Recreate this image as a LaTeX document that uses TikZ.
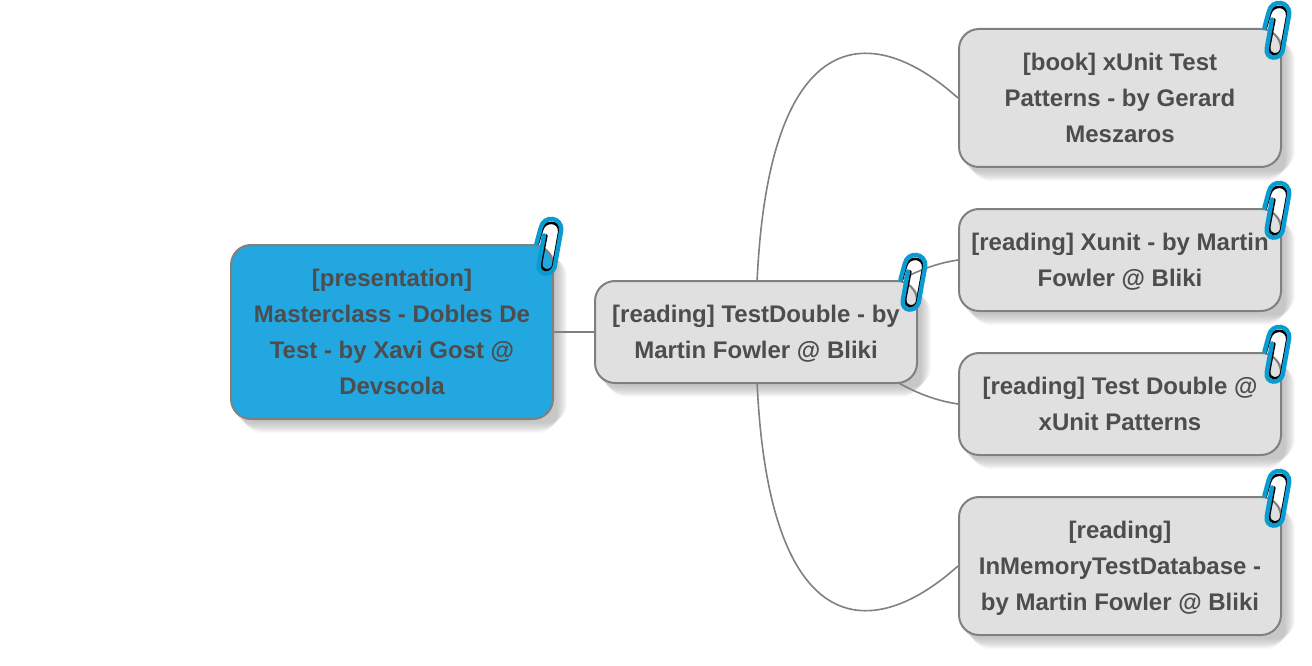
\documentclass[tikz,border=0pt]{standalone}
\usepackage{fontspec}
\setmainfont{Liberation Sans}
\pgfdeclarelayer{edgelayer}
\pgfdeclarelayer{nodelayer}
\pgfsetlayers{edgelayer,nodelayer,main}
\definecolor{topicgray}{HTML}{E0E0E0}
\definecolor{topicblue}{HTML}{22A7E0}
\definecolor{edgegray}{HTML}{808080}
\definecolor{textgray}{HTML}{4D4D4D}
\definecolor{clipblue}{HTML}{0A9BD0}
\tikzstyle{topic}=[rectangle,rounded corners=20pt,draw=edgegray,line width=2pt,fill=topicgray,text=textgray,
  minimum width=322pt,align=center,font=\fontsize{24}{36}\selectfont\bfseries,text depth=0pt]
\tikzstyle{link}=[edgegray,line width=1.6pt]
\tikzset{paperclip/.pic={
\draw[black,line width=2.6pt,line cap=round,scale=0.95]
(-17,0) -- (-12.5,15) .. controls (-10,25) and (6,25) .. (5.5,13) -- (-1,-23) .. controls (-3,-30) and (-14,-30) .. (-13.5,-20) -- (-8,9);
\draw[clipblue,line width=4.4pt,line cap=round,scale=0.95]
(-18.5,0.5) -- (-14,17) .. controls (-11,31) and (9,29) .. (7.5,14) -- (0.7,-24) .. controls (-2,-34) and (-18,-34) .. (-16,-21) -- (-10.5,9);
}}
\newcommand{\topicshadow}[1]{
\foreach \e in {-5,...,5}
\fill[black!50,opacity=0.05,rounded corners=20pt] ([shift={(8-\e,-8+\e)}]#1.south west) rectangle ([shift={(8+\e,-8-\e)}]#1.north east);
}
\begin{document}
\begin{tikzpicture}[x=1pt,y=1pt]
\useasboundingbox (0,0) rectangle (1312,-666);
\node[topic,fill=topicblue,minimum height=174pt] (master) at (392,-332) {[presentation]\\Masterclass - Dobles De\\Test - by Xavi Gost @\\Devscola};
\node[topic,minimum height=102pt] (testdouble) at (756,-332) {[reading] TestDouble - by\\Martin Fowler @ Bliki};
\node[topic,minimum height=138pt] (book) at (1120,-98) {[book] xUnit Test\\Patterns - by Gerard\\Meszaros};
\node[topic,minimum height=102pt] (xunit) at (1120,-260) {[reading] Xunit - by Martin\\Fowler @ Bliki};
\node[topic,minimum height=102pt] (patterns) at (1120,-404) {[reading] Test Double @\\xUnit Patterns};
\node[topic,minimum height=138pt] (memory) at (1120,-566) {[reading]\\InMemoryTestDatabase -\\by Martin Fowler @ Bliki};
\begin{pgfonlayer}{edgelayer}
\draw[link] (master) -- (testdouble);
\draw[link] (testdouble.center) .. controls (756,-30) and (862,-12) .. (book.west);
\draw[link] (testdouble.center) .. controls (756,-634) and (862,-652) .. (memory.west);
\draw[link] (testdouble.center) .. controls (860,-330) and (880,-272) .. (xunit.west);
\draw[link] (testdouble.center) .. controls (860,-334) and (880,-392) .. (patterns.west);
\end{pgfonlayer}
\begin{pgfonlayer}{nodelayer}
\topicshadow{master}
\topicshadow{testdouble}
\topicshadow{book}
\topicshadow{xunit}
\topicshadow{patterns}
\topicshadow{memory}
\end{pgfonlayer}
\pic at (master.north east) {paperclip};
\pic at (testdouble.north east) {paperclip};
\pic at (book.north east) {paperclip};
\pic at (xunit.north east) {paperclip};
\pic at (patterns.north east) {paperclip};
\pic at (memory.north east) {paperclip};
\end{tikzpicture}
\end{document}
